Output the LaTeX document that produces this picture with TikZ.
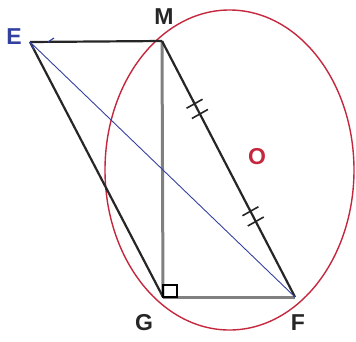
\documentclass[tikz,border=0pt]{standalone}
\usepackage{fontspec}
\setmainfont{Liberation Sans}
\usetikzlibrary{calc}
\definecolor{ered}{RGB}{196,40,62}
\definecolor{eblue}{RGB}{52,64,160}
\definecolor{lgray}{RGB}{128,128,128}
\begin{document}
\begin{tikzpicture}[x=1pt,y=-1pt,
  lbl/.style={font=\fontsize{23}{23}\selectfont\bfseries, inner sep=0pt},
  blk/.style={line width=2.2pt, black!85},
  gry/.style={line width=3pt, lgray},
  tickmark/.style={line width=1.6pt, black!85}]
\useasboundingbox (0,0) rectangle (356,341);
\coordinate (E) at (30,42);
\coordinate (M) at (162,41);
\coordinate (G) at (163,297);
\coordinate (F) at (295,297);
\coordinate (O) at (229.5,170);
% ellipse
\draw[ered, line width=1.4pt] (O) ellipse [x radius=124.5, y radius=160];
% segments
\draw[gry] (M) -- (G);
\draw[gry] (G) -- (F);
\draw[blk] (E) -- (M);
\draw[blk] (E) -- (G);
\draw[blk] (M) -- (F);
\draw[eblue, line width=0.9pt] (E) -- (F);
\draw[eblue, line width=1pt] (E) -- ++(4,8);
\draw[eblue, line width=1.2pt] (48,42) -- (54,38);
% right angle
\draw[black, line width=1.8pt] (163,285) rectangle (177,297);
% tick marks on MF
\foreach \t in {0.245,0.285,0.665,0.705}{
  \draw[tickmark] ($(M)!\t!(F)$) ++(-8,4.5) -- ++(16,-9);
}
% labels
\node[lbl, text=eblue] (lE) at (14,37) {E};
\node[lbl, text=black!85] (lM) at (164,17) {M};
\node[lbl, text=ered] (lO) at (257,157) {O};
\node[lbl, text=black!85] (lG) at (144,323) {G};
\node[lbl, text=black!85] (lF) at (298,323) {F};
\end{tikzpicture}
\end{document}
